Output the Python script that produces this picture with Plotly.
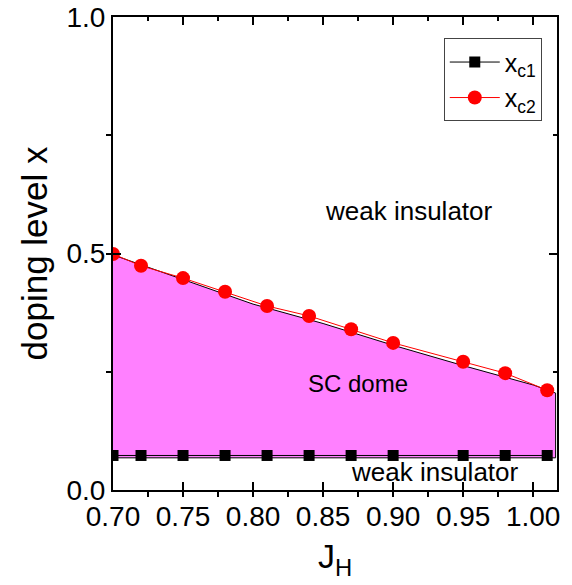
import plotly.graph_objects as go

# ---- data ----
J_c1 = [0.70, 0.72, 0.75, 0.78, 0.81, 0.84, 0.87, 0.90, 0.95, 0.98, 1.01]
x_c1 = [0.073, 0.073, 0.073, 0.073, 0.073, 0.073, 0.073, 0.073, 0.073, 0.073, 0.073]
J_c2 = [0.70, 0.72, 0.75, 0.78, 0.81, 0.84, 0.87, 0.90, 0.95, 0.98, 1.01]
x_c2 = [0.499, 0.474, 0.448, 0.419, 0.389, 0.368, 0.340, 0.311, 0.271, 0.247, 0.211]

dome_J = [0.70, 0.75, 0.80, 0.85, 0.90, 0.95, 1.00, 1.016, 1.016, 0.70]
dome_x = [0.497, 0.445, 0.393, 0.352, 0.306, 0.263, 0.222, 0.205, 0.068, 0.068]

x_range = [0.70, 1.017]
y_range = [0.0, 1.0]

FONT = "Liberation Sans, Arial, sans-serif"

fig = go.Figure()

fig.add_trace(go.Scatter(
    x=dome_J, y=dome_x, mode="lines", fill="toself",
    fillcolor="#FF80FF", line=dict(color="black", width=1),
    showlegend=False, hoverinfo="skip"))

fig.add_trace(go.Scatter(
    x=J_c1, y=x_c1, mode="lines+markers", name="x<sub>c1</sub>",
    line=dict(color="black", width=1),
    marker=dict(symbol="square", size=11, color="black")))

fig.add_trace(go.Scatter(
    x=J_c2, y=x_c2, mode="lines+markers", name="x<sub>c2</sub>",
    line=dict(color="red", width=1),
    marker=dict(symbol="circle", size=14, color="red")))

# dummy trace so that the mirrored top/right axes render
fig.add_trace(go.Scatter(
    x=[x_range[0]], y=[y_range[0]], xaxis="x2", yaxis="y2", mode="markers",
    marker=dict(opacity=0), showlegend=False, hoverinfo="skip"))

fig.add_annotation(x=0.911, y=0.59, text="weak insulator", showarrow=False,
                   font=dict(size=26, color="black", family=FONT))
fig.add_annotation(x=0.875, y=0.226, text="SC dome", showarrow=False,
                   font=dict(size=24, color="black", family=FONT))
fig.add_annotation(x=0.930, y=0.038, text="weak insulator", showarrow=False,
                   font=dict(size=26, color="black", family=FONT))

tick_common = dict(showgrid=False, zeroline=False, tickcolor="black",
                   tickwidth=1.5, ticklen=8, automargin=False)

fig.update_layout(
    width=572, height=585,
    margin=dict(l=113, r=15, t=17, b=95, autoexpand=False),
    paper_bgcolor="white", plot_bgcolor="white",
    font=dict(family=FONT, color="black"),
    xaxis=dict(range=x_range, tick0=0.70, dtick=0.05, tickformat=".2f",
               ticks="inside", showline=True, mirror=True,
               linecolor="black", linewidth=2,
               tickfont=dict(size=28), ticklabeloverflow="allow",
               title=dict(text="J<sub>H</sub>", font=dict(size=34), standoff=14),
               minor=dict(ticks="outside", dtick=0.025, ticklen=5,
                          tickcolor="black", tickwidth=1.5),
               **tick_common),
    yaxis=dict(range=y_range, tick0=0, dtick=0.5, tickformat=".1f",
               ticks="inside", showline=True, mirror=True,
               linecolor="black", linewidth=2,
               tickfont=dict(size=28), ticklabeloverflow="allow",
               title=dict(text="doping level x", font=dict(size=35), standoff=8),
               minor=dict(ticks="outside", dtick=0.25, ticklen=5,
                          tickcolor="black", tickwidth=1.5),
               **tick_common),
    xaxis2=dict(range=x_range, overlaying="x", side="top", tick0=0.70, dtick=0.05,
                ticks="inside", showticklabels=False, showline=False,
                minor=dict(ticks="inside", dtick=0.025, ticklen=4,
                           tickcolor="black", tickwidth=1.5),
                **tick_common),
    yaxis2=dict(range=y_range, overlaying="y", side="right", tick0=0, dtick=0.5,
                ticks="inside", showticklabels=False, showline=False,
                minor=dict(ticks="inside", dtick=0.25, ticklen=4,
                           tickcolor="black", tickwidth=1.5),
                **tick_common),
    legend=dict(x=0.745, y=0.955, xanchor="left", yanchor="top",
                bgcolor="white", bordercolor="#444", borderwidth=1,
                font=dict(size=25, family=FONT), itemwidth=50,
                tracegroupgap=0),
    showlegend=True,
)

# remove the default 8px page margin so the figure fills the window exactly
fig.write_html("out.html", config={"displayModeBar": False},
               post_script="document.body.style.margin='0px';")
